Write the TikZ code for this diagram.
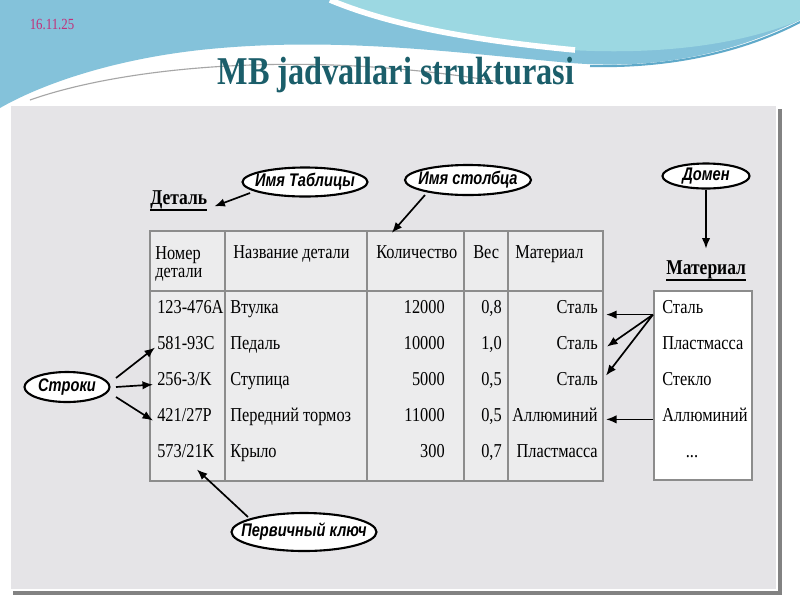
\documentclass[tikz,border=0pt]{standalone}
\usepackage{fontspec}
\setmainfont{Liberation Serif}[FakeStretch=0.83]
\newfontfamily\titlefont{Liberation Serif}[FakeStretch=0.82]
\newfontfamily\calloutfont{Liberation Sans}[FakeStretch=0.8]
\usetikzlibrary{positioning,shapes,arrows,arrows.meta}

\definecolor{wavedark}{HTML}{84C2DA}
\definecolor{wavelight}{HTML}{9CD8E2}
\definecolor{wavedeep}{HTML}{5FA9C9}
\definecolor{titleteal}{HTML}{1B5E6A}
\definecolor{datepink}{HTML}{C2307A}
\definecolor{panelgray}{HTML}{E5E4E7}
\definecolor{tablegray}{HTML}{8C8C8C}
\definecolor{cellgray}{HTML}{ECECED}

\tikzset{
  callout/.style={ellipse, draw, line width=1.5pt, fill=white, inner xsep=-30pt, inner ysep=-6pt,
    font=\calloutfont\bfseries\itshape\fontsize{13}{15}\selectfont},
  cell/.style={inner sep=0pt, font=\fontsize{14}{16}\selectfont},
  heading/.style={inner sep=0pt, font=\bfseries\fontsize{15}{17}\selectfont},
  arr/.style={-{Latex[length=7.5pt,width=6pt]}, line width=1.2pt},
  grid/.style={draw=tablegray, line width=1.3pt}
}

\begin{document}
\begin{tikzpicture}[x=0.025cm,y=-0.025cm]
\useasboundingbox (0,0) rectangle (800,600);
\fill[white] (0,0) rectangle (800,600);

\fill[wavedark] (0,0) -- (800,0) -- (800,20) .. controls (720,60) and (640,70) .. (560,62)
  .. controls (450,52) and (330,36) .. (200,50) .. controls (110,60) and (40,85) .. (0,108) -- cycle;
\fill[wavelight] (330,0) -- (800,0) -- (800,20) .. controls (740,45) and (660,55) .. (570,50)
  .. controls (470,40) and (390,25) .. (330,0) -- cycle;
\draw[white, line width=4] (330,0) .. controls (390,25) and (470,40) .. (575,50);
\draw[wavedeep, line width=1.5] (590,66) .. controls (680,68) and (750,48) .. (800,22);
\draw[gray!70, line width=0.8] (30,100) .. controls (120,68) and (300,48) .. (500,82);

\node[text=datepink, inner sep=0pt, font=\fontsize{11}{12}\selectfont] (date) at (52,24) {16.11.25};
\node[text=titleteal, inner sep=0pt, font=\titlefont\bfseries\fontsize{28}{32}\selectfont] (title) at (396,75) {MB jadvallari strukturasi};

\fill[gray!60!black!70] (13,109) rectangle (782,595);
\filldraw[fill=panelgray, draw=white, line width=0.8] (10,105) rectangle (777,590);

\fill[cellgray] (150,231) rectangle (603,481);
\draw[grid] (150,231) rectangle (603,481);
\draw[grid] (150,291) -- (603,291);
\draw[grid] (225,231) -- (225,481);
\draw[grid] (367,231) -- (367,481);
\draw[grid] (464,231) -- (464,481);
\draw[grid] (508,231) -- (508,481);

\filldraw[fill=white, draw=tablegray, line width=1.0] (654,291) rectangle (752,480);

\node[heading, anchor=base west] (det) at (150,204) {Деталь};
\draw[line width=1.6] ([yshift=-1]det.south west) -- ([yshift=-1]det.south east);
\node[heading, anchor=base west] (mat) at (666,274) {Материал};
\draw[line width=1.6] ([yshift=-1]mat.south west) -- ([yshift=-1]mat.south east);

\node[cell, anchor=north west, align=left, font=\fontsize{14}{13}\selectfont] (hnum) at (155,246) {Номер\\детали};
\node[cell, anchor=base west] (hname) at (233,258) {Название детали};
\node[cell, anchor=base west] (hqty) at (376,258) {Количество};
\node[cell, anchor=base west] (hw) at (473,258) {Вес};
\node[cell, anchor=base west] (hmat) at (515,258) {Материал};

\node[cell, anchor=base west] (n1) at (157,313) {123-476A};
\node[cell, anchor=base west] (nm1) at (230,313) {Втулка};
\node[cell, anchor=base east] (q1) at (445,313) {12000};
\node[cell, anchor=base east] (w1) at (502,313) {0,8};
\node[cell, anchor=base east] (m1) at (598,313) {Сталь};

\node[cell, anchor=base west] (n2) at (157,349) {581-93C};
\node[cell, anchor=base west] (nm2) at (230,349) {Педаль};
\node[cell, anchor=base east] (q2) at (445,349) {10000};
\node[cell, anchor=base east] (w2) at (502,349) {1,0};
\node[cell, anchor=base east] (m2) at (598,349) {Сталь};

\node[cell, anchor=base west] (n3) at (157,385) {256-3/K};
\node[cell, anchor=base west] (nm3) at (230,385) {Ступица};
\node[cell, anchor=base east] (q3) at (445,385) {5000};
\node[cell, anchor=base east] (w3) at (502,385) {0,5};
\node[cell, anchor=base east] (m3) at (598,385) {Сталь};

\node[cell, anchor=base west] (n4) at (157,421) {421/27P};
\node[cell, anchor=base west] (nm4) at (230,421) {Передний тормоз};
\node[cell, anchor=base east] (q4) at (445,421) {11000};
\node[cell, anchor=base east] (w4) at (502,421) {0,5};
\node[cell, anchor=base east] (m4) at (598,421) {Аллюминий};

\node[cell, anchor=base west] (n5) at (157,457) {573/21K};
\node[cell, anchor=base west] (nm5) at (230,457) {Крыло};
\node[cell, anchor=base east] (q5) at (445,457) {300};
\node[cell, anchor=base east] (w5) at (502,457) {0,7};
\node[cell, anchor=base east] (m5) at (598,457) {Пластмасса};

\node[cell, anchor=base west] (d1) at (662,313) {Сталь};
\node[cell, anchor=base west] (d2) at (662,349) {Пластмасса};
\node[cell, anchor=base west] (d3) at (662,385) {Стекло};
\node[cell, anchor=base west] (d4) at (662,421) {Аллюминий};
\node[cell, anchor=base] (d5) at (692,457) {...};

\node[callout, minimum width=125*0.025cm, minimum height=29*0.025cm] (tname) at (305,182) {Имя Таблицы};
\node[callout, minimum width=126*0.025cm, minimum height=30*0.025cm] (cname) at (468,180) {Имя столбца};
\node[callout, minimum width=87*0.025cm, minimum height=25*0.025cm] (dom) at (706,176) {Домен};
\node[callout, minimum width=85*0.025cm, minimum height=30*0.025cm] (rows) at (67,387) {Строки};
\node[callout, minimum width=145*0.025cm, minimum height=38*0.025cm] (pkey) at (304,532) {Первичный ключ};

\draw[arr] ([shift={(-55,11)}]tname.center) -- ([shift={(7,7)}]det.east);
\draw[arr] ([shift={(-43,15)}]cname.center) -- ([shift={(-25,-12)}]hqty.north);
\draw[arr] (dom.south) -- ([yshift=8]dom.south |- mat.north);

\draw[arr] ([shift={(49,-9)}]rows.center) -- ([shift={(-2,5)}]n2.west);
\draw[arr] ([shift={(49,0)}]rows.center) -- ([shift={(-4,6)}]n3.west);
\draw[arr] ([shift={(49,10)}]rows.center) -- ([shift={(-4,6)}]n4.west);
\draw[arr] ([shift={(-56,-15)}]pkey.center) -- ([shift={(11,12)}]n5.south);

\coordinate (hub) at ([shift={(-9,8)}]d1.west);
\draw[arr] (hub) -- ([shift={(8,8)}]m1.east);
\draw[arr] (hub) -- ([shift={(9,4)}]m2.east);
\draw[arr] (hub) -- ([shift={(8,-3)}]m3.east);
\draw[arr] ([shift={(-9,5)}]d4.west) -- ([shift={(8,5)}]m4.east);
\end{tikzpicture}
\end{document}
